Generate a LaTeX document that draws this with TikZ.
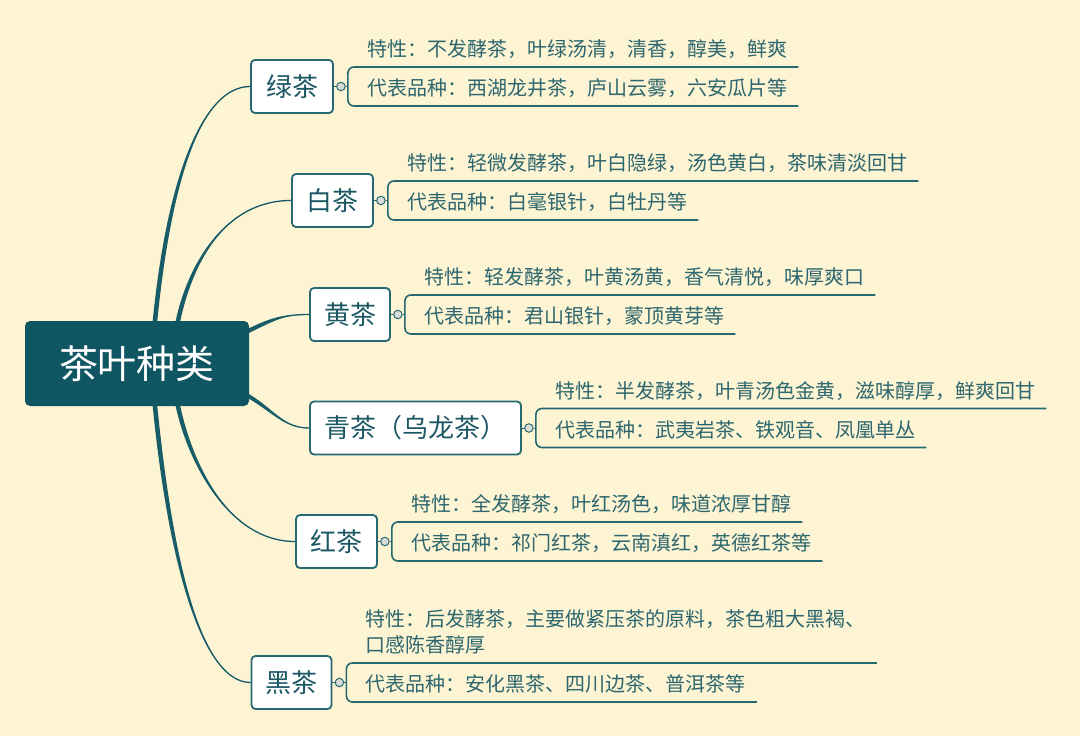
\documentclass[tikz,border=0pt]{standalone}
\usepackage{fontspec}
\newfontfamily\cjk{Noto Sans CJK SC}
\usetikzlibrary{calc}
\definecolor{bgc}{RGB}{252,244,211}
\definecolor{rootc}{RGB}{15,86,98}
\definecolor{curvec}{RGB}{24,92,104}
\definecolor{borderc}{RGB}{40,104,112}
\definecolor{topict}{RGB}{28,88,100}
\definecolor{detailt}{RGB}{45,102,110}
\definecolor{knobc}{RGB}{215,220,214}
\pgfdeclarelayer{bglayer}
\pgfdeclarelayer{curvelayer}
\pgfsetlayers{bglayer,curvelayer,main}
\tikzset{
  rootnode/.style={fill=rootc, text=white, rounded corners=5pt, minimum width=224pt, minimum height=85pt, inner sep=0pt, font=\cjk\fontsize{39}{44}\selectfont},
  topic/.style={draw=borderc, line width=1.8pt, fill=white, rounded corners=4pt, minimum height=53pt, inner sep=0pt, text=topict, font=\cjk\fontsize{26}{30}\selectfont},
  knob/.style={circle, draw=borderc, fill=knobc, line width=1pt, minimum size=8.5pt, inner sep=0pt},
  detail/.style={inner sep=0pt, text=detailt, font=\cjk\fontsize{20}{26}\selectfont, align=left},
  leaf/.style={draw=borderc, line width=1.6pt},
  mapcurve/.style={draw=curvec, line width=1.3pt},
  curvefill/.style={fill=curvec},
}
% #1 id, #2 centre, #3 width, #4 label, #5 top text, #6 bottom text, #7 extra shift of top text
\newcommand{\teabranch}[7]{%
  \node[topic, minimum width=#3] (n#1) at (#2) {#4};
  \node[knob] (k#1) at ($(n#1.east)+(7,0)$) {};
  \coordinate (v#1) at ($(n#1.east)+(14,0)$);
  \node[detail, anchor=base west] (p#1) at ($(n#1.east)+(33,-30+#7)$) {#5};
  \node[detail, anchor=base west] (q#1) at ($(n#1.east)+(33,9)$) {#6};
  \draw[leaf, line width=1pt] (n#1.east) -- (k#1.west);
  \draw[leaf, line width=1pt] (k#1.east) -- (v#1);
  \draw[leaf, rounded corners=6pt] ($(p#1.east |- v#1)+(11,-19.5)$) -- ($(v#1)+(0,-19.5)$) -- ($(v#1)+(0,19.5)$) -- ($(q#1.east |- v#1)+(11,19.5)$);
}
% tapered curve: #1 start, #2 half thickness vector, #3 control 1 rel start, #4 control 2 rel end, #5 end
\newcommand{\tcurve}[5]{%
  \fill[curvefill] ($(#1)-(#2)$) .. controls ($(#1)-(#2)+(#3)$) and ($(#5)+(#4)$) .. (#5) .. controls ($(#5)+(#4)$) and ($(#1)+(#2)+(#3)$) .. ($(#1)+(#2)$) -- cycle;
  \draw[mapcurve] (#1) .. controls ($(#1)+(#3)$) and ($(#5)+(#4)$) .. (#5);
}
\begin{document}
\begin{tikzpicture}[x=1pt,y=-1pt]
\begin{pgfonlayer}{bglayer}
\fill[bgc] (0,0) rectangle (1080,736);
\end{pgfonlayer}
\useasboundingbox (0,0) rectangle (1080,736);

\node[rootnode] (root) at (137,363.5) {茶叶种类};

\teabranch{1}{292,86.5}{82}{绿茶}{特性：不发酵茶，叶绿汤清，清香，醇美，鲜爽}{代表品种：西湖龙井茶，庐山云雾，六安瓜片等}{0}
\teabranch{2}{332.5,200.5}{81}{白茶}{特性：轻微发酵茶，叶白隐绿，汤色黄白，茶味清淡回甘}{代表品种：白毫银针，白牡丹等}{0}
\teabranch{3}{350,314.5}{80}{黄茶}{特性：轻发酵茶，叶黄汤黄，香气清悦，味厚爽口}{代表品种：君山银针，蒙顶黄芽等}{0}
\teabranch{4}{415.5,428}{211}{青茶（乌龙茶）}{特性：半发酵茶，叶青汤色金黄，滋味醇厚，鲜爽回甘}{代表品种：武夷岩茶、铁观音、凤凰单丛}{0}
\teabranch{5}{336.5,541.5}{81}{红茶}{特性：全发酵茶，叶红汤色，味道浓厚甘醇}{代表品种：祁门红茶，云南滇红，英德红茶等}{0}
\teabranch{6}{291.5,682.5}{80}{黑茶}{特性：后发酵茶，主要做紧压茶的原料，茶色粗大黑褐、\\口感陈香醇厚}{代表品种：安化黑茶、四川边茶、普洱茶等}{0}

\begin{pgfonlayer}{curvelayer}
\coordinate (s1) at ($(root.north)+(18,0)$);
\coordinate (s2) at ($(root.north)+(41,0)$);
\coordinate (s3) at ($(root.east)+(0,-33)$);
\coordinate (s4) at ($(root.east)+(0,33)$);
\coordinate (s5) at ($(root.south)+(41,0)$);
\coordinate (s6) at ($(root.south)+(18,0)$);
\tcurve{s1}{2.3,0}{15,-150}{-46,0}{n1.west}
\tcurve{s2}{2.3,0}{12,-56}{-67,0}{n2.west}
\tcurve{s3}{0,2.3}{25,-12}{-25,0}{n3.west}
\tcurve{s4}{0,2.3}{25,15}{-25,0}{n4.west}
\tcurve{s5}{2.3,0}{12,56}{-67,0}{n5.west}
\tcurve{s6}{2.3,0}{17,170}{-46,0}{n6.west}
\end{pgfonlayer}
\end{tikzpicture}
\end{document}
